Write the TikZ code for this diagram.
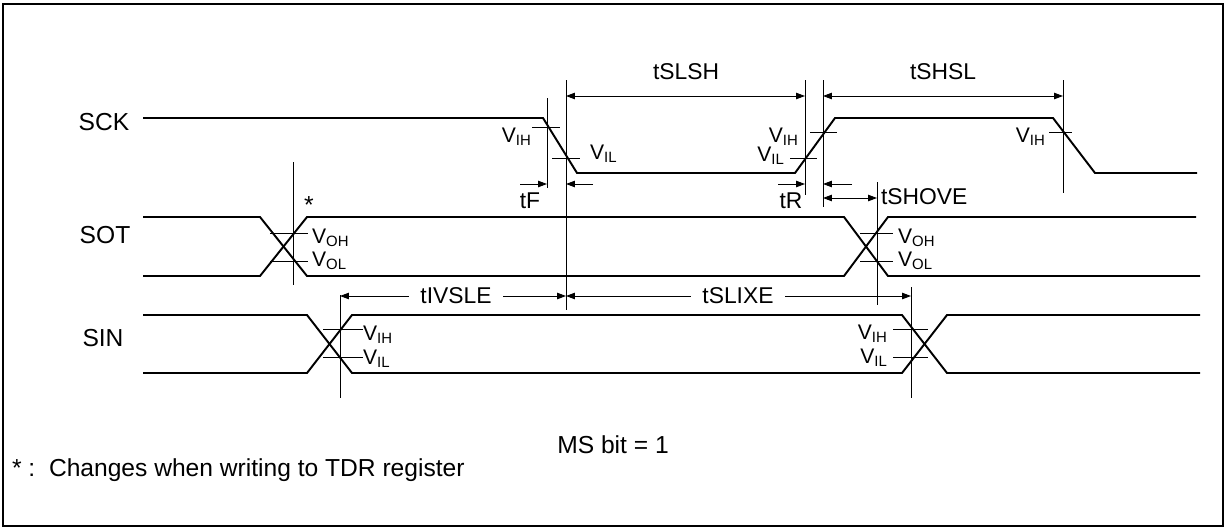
\documentclass[tikz,border=0pt]{standalone}
\usepackage{fontspec}
\setmainfont{Liberation Sans}
\usetikzlibrary{arrows.meta}
\newcommand{\lev}[1]{V\raisebox{-0.3ex}{\fontsize{8.5}{9}\selectfont #1}}
\tikzset{
  sig/.style={line width=1.1pt},
  tick/.style={line width=0.5pt},
  onearrow/.style={line width=0.5pt,-{Triangle[length=5pt,width=3.6pt]}},
  twoarrow/.style={line width=0.5pt,{Triangle[length=5pt,width=3.6pt]}-{Triangle[length=5pt,width=3.6pt]}},
  lbl/.style={font=\fontsize{13}{15}\selectfont,inner sep=1pt},
  levlbl/.style={font=\fontsize{12}{14}\selectfont,inner sep=1pt},
  signame/.style={font=\fontsize{14}{16}\selectfont,inner sep=1pt}
}
\begin{document}
\begin{tikzpicture}[x=0.02cm,y=-0.02cm]
  \useasboundingbox (0,0) rectangle (1226,528);
  \draw[line width=1.2pt] (3,4) rectangle (1223,526);

  % signal names
  \node[signame] (sck) at (104,122) {SCK};
  \node[signame] (sot) at (105,235) {SOT};
  \node[signame] (sin) at (103,338) {SIN};

  % reference lines
  \foreach \n/\x/\a/\b in {tf/547/98/188, sl/566/80/310, sr/805/80/195,
      hl/823/80/207, hr/1063/80/193, ho/877/182/305, ot/293/162/285,
      ia/340/295/398, ib/911/287/398}
  {
    \coordinate (\n-t) at (\x,\a);
    \coordinate (\n-b) at (\x,\b);
    \draw[tick] (\n-t) -- (\n-b);
  }

  % waveforms
  \draw[sig] (143,118) -- (543,118) -- (577,173) -- (795,173) -- (835,118)
    -- (1053,118) -- (1095,173) -- (1197,173);
  \draw[sig] (143,217) -- (260,217) -- (307,276) -- (844,276) -- (888,217) -- (1196,217);
  \draw[sig] (143,276) -- (260,276) -- (307,217) -- (844,217) -- (888,276) -- (1200,276);
  \draw[sig] (143,315) -- (307,315) -- (352,373) -- (902,373) -- (947,315) -- (1200,315);
  \draw[sig] (143,373) -- (307,373) -- (352,315) -- (902,315) -- (947,373) -- (1200,373);

  % level ticks
  \foreach \a/\b/\y in {532/560/127, 552/580/158, 790/817/158, 810/837/132,
      1049/1072/132, 270/308/233, 270/308/261, 860/893/233, 860/893/261,
      323/363/329, 323/363/357, 893/928/329, 893/928/357}
    \draw[tick] (\a,\y) -- (\b,\y);

  % level labels
  \node[levlbl,anchor=east] (ih1) at (533,137) {\lev{IH}};
  \node[levlbl,anchor=west] (il1) at (588,154) {\lev{IL}};
  \node[levlbl,anchor=east] (ih2) at (800,137) {\lev{IH}};
  \node[levlbl,anchor=east] (il2) at (786,156) {\lev{IL}};
  \node[levlbl,anchor=east] (ih3) at (1047,137) {\lev{IH}};
  \node[levlbl,anchor=west] (oh1) at (310,238) {\lev{OH}};
  \node[levlbl,anchor=west] (ol1) at (310,261) {\lev{OL}};
  \node[levlbl,anchor=west] (oh2) at (896,238) {\lev{OH}};
  \node[levlbl,anchor=west] (ol2) at (896,261) {\lev{OL}};
  \node[levlbl,anchor=west] (ih4) at (361,335) {\lev{IH}};
  \node[levlbl,anchor=west] (il4) at (361,359) {\lev{IL}};
  \node[levlbl,anchor=east] (ih5) at (889,334) {\lev{IH}};
  \node[levlbl,anchor=east] (il5) at (889,358) {\lev{IL}};

  % timing arrows
  \coordinate (tfa) at (520,184);
  \coordinate (tfb) at (593,184);
  \coordinate (tra) at (778,184);
  \coordinate (trb) at (852,184);
  \draw[twoarrow] (sl-t |- 0,96) -- (sr-t |- 0,96);
  \draw[twoarrow] (hl-t |- 0,96) -- (hr-t |- 0,96);
  \draw[onearrow] (tfa) -- (tf-t |- tfa);
  \draw[onearrow] (tfb) -- (sl-t |- tfb);
  \draw[onearrow] (tra) -- (sr-t |- tra);
  \draw[onearrow] (trb) -- (hl-t |- trb);
  \draw[twoarrow] (hl-t |- 0,198) -- (ho-t |- 0,198);
  \draw[twoarrow] (ia-t |- 0,296) -- (sl-t |- 0,296);
  \draw[twoarrow] (sl-t |- 0,296) -- (ib-t |- 0,296);

  % timing labels
  \node[lbl] (tslsh) at (686,72) {tSLSH};
  \node[lbl] (tshsl) at (943,72) {tSHSL};
  \node[lbl] (tflbl) at (530,201) {tF};
  \node[lbl] (trlbl) at (791,201) {tR};
  \node[lbl,anchor=west] (tshove) at (879,197) {tSHOVE};
  \node[lbl,fill=white,inner xsep=6.5pt] (tivsle) at (456,296) {tIVSLE};
  \node[lbl,fill=white,inner xsep=6.5pt] (tslixe) at (738,296) {tSLIXE};

  % notes
  \node[signame] (star) at (309,205) {*};
  \node[signame] (msbit) at (613,445) {MS bit = 1};
  \node[signame,anchor=west] (note) at (10,470) {* :\ \ Changes when writing to TDR register};
\end{tikzpicture}
\end{document}
